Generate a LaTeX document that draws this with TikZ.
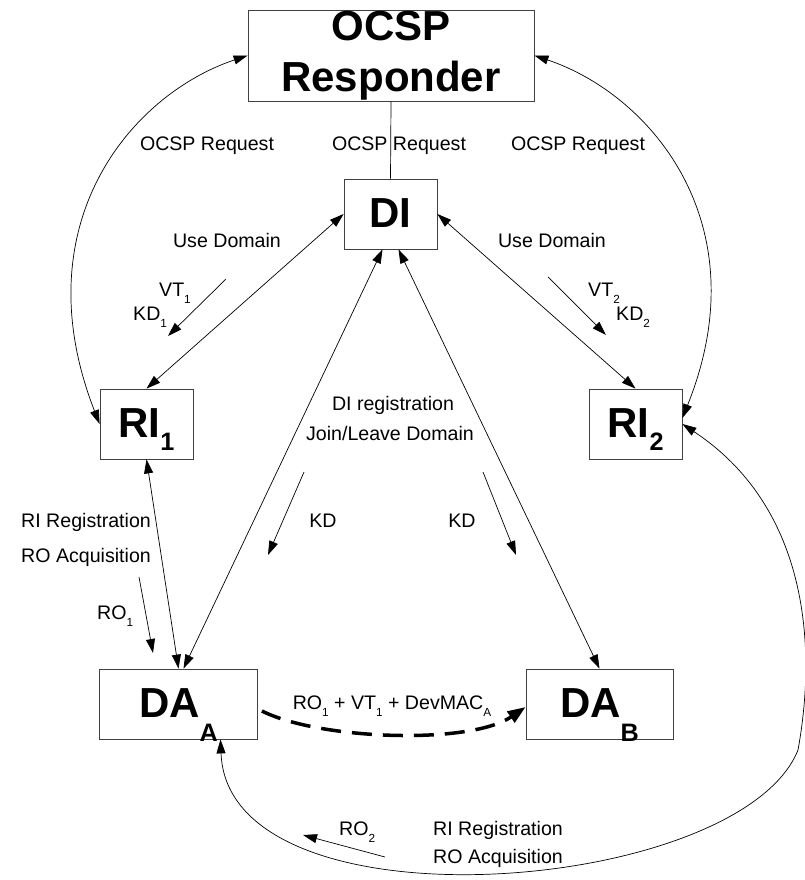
\documentclass[tikz,border=0pt]{standalone}
\usepackage{fontspec}
\setmainfont{Liberation Sans}
\usepackage{graphicx}
\usetikzlibrary{arrows.meta,positioning}
\newcommand{\ssub}[1]{\raisebox{-0.36em}{\scalebox{0.6}{#1}}}
\newcommand{\bsub}[2][-13pt]{\raisebox{#1}{\scalebox{0.6}{#2}}}

\begin{document}
\begin{tikzpicture}[x=1pt,y=-1pt,
  box/.style={draw=black!75,line width=0.8pt,inner sep=0pt,
    font=\fontsize{42}{51}\selectfont\bfseries,text height=31pt,text depth=5pt,
    minimum width=93pt,minimum height=70pt},
  lbl/.style={font=\fontsize{19.6}{24}\selectfont,inner sep=0pt,anchor=base},
  lblw/.style={lbl,anchor=base west},
  link/.style={line width=0.7pt,{Triangle[length=14pt,width=9pt]}-{Triangle[length=14pt,width=9pt]}},
  msg/.style={line width=0.7pt,-{Triangle[length=14pt,width=9pt]}},
  dashlink/.style={line width=3.5pt,dash pattern=on 20pt off 11pt,
    -{Triangle[length=18pt,width=13pt]}}]
  \path[use as bounding box,fill=white] (0,0) rectangle (805,880);

  % boxes
  \node[box,minimum width=286pt,minimum height=91pt,align=center,
    text height=82pt,text depth=9pt] (ocsp) at (391,55.5) {OCSP\\Responder};
  \node[box] (di) at (390.5,214) {DI};
  \node[box] (ri1) at (146.5,424) {RI\bsub{1}};
  \node[box] (ri2) at (635.5,424) {RI\bsub{2}};
  \node[box,minimum width=158pt] (daa) at (178.5,704) {DA\bsub[-24pt]{A}};
  \node[box,minimum width=147pt] (dab) at (599.5,704) {DA\bsub[-24pt]{B}};

  % connectors
  \draw[line width=0.7pt] (ocsp.south) -- (di.north);
  \draw[link] (ri1.west) .. controls (22,225) and (130,95) .. (ocsp.west);
  \draw[link] ([yshift=6pt]ri2.east) .. controls (760,225) and (652,95) .. (ocsp.east);
  \draw[link] (ri1.north) -- (di.west);
  \draw[link] (ri2.north) -- (di.east);
  \draw[link] ([xshift=-8pt]di.south) -- ([xshift=5pt]daa.north);
  \draw[link] ([xshift=8pt]di.south) -- (dab.north);
  \draw[link] (ri1.south) -- (daa.north);
  \draw[dashlink] ([xshift=4pt,yshift=-7pt]daa.east)
    .. controls (320,740) and (470,745) .. ([yshift=-3pt]dab.west);
  \draw[link] ([xshift=42pt]daa.south) .. controls (228,935) and (740,895) .. (798,750)
    .. controls (818,640) and (805,505) .. (ri2.east);

  % message arrows
  \foreach \a/\b/\c/\d [count=\i] in {226/279/168/336, 548/277/606/335,
      304/472/268/555, 483/472/516/555, 139/577/153/653, 385/857/303/835} {
    \coordinate (m\i s) at (\a,\b);
    \coordinate (m\i e) at (\c,\d);
    \draw[msg] (m\i s) -- (m\i e);
  }

  % labels
  \foreach \x [count=\i] in {207,399,578}
    \node[lbl] (req\i) at (\x,150) {OCSP Request};
  \node[lbl] (use1) at (227,247) {Use Domain};
  \node[lbl] (use2) at (552,247) {Use Domain};
  \node[lblw] (vt1) at (159,296) {VT\ssub{1}};
  \node[lblw] (kd1) at (133,320) {KD\ssub{1}};
  \node[lblw] (vt2) at (588,296) {VT\ssub{2}};
  \node[lblw] (kd2) at (616,320) {KD\ssub{2}};
  \node[lbl] (direg) at (393,410) {DI registration};
  \node[lbl] (join) at (390,440) {Join/Leave Domain};
  \node[lbl] (kda) at (323,527) {KD};
  \node[lbl] (kdb) at (462,527) {KD};
  \node[lblw] (rireg1) at (21,527) {RI Registration};
  \node[lblw] (roacq1) at (21,562) {RO Acquisition};
  \node[lblw] (ro1) at (97,619) {RO\ssub{1}};
  \node[lbl] (pass) at (392,709) {RO\ssub{1} + VT\ssub{1} + DevMAC\ssub{A}};
  \node[lblw] (ro2) at (339,835) {RO\ssub{2}};
  \node[lblw] (rireg2) at (433,835) {RI Registration};
  \node[lblw] (roacq2) at (433,863) {RO Acquisition};
\end{tikzpicture}
\end{document}
